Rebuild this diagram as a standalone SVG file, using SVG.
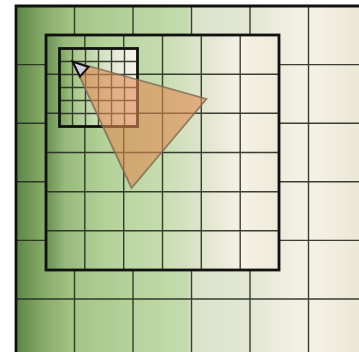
<svg xmlns="http://www.w3.org/2000/svg" width="359" height="352" viewBox="0 0 359 352">
<defs>
<linearGradient id="gOuter" gradientUnits="userSpaceOnUse" x1="16" y1="0" x2="359" y2="0">
<stop offset="0" stop-color="#5a8545"/>
<stop offset="0.08" stop-color="#88ab68"/>
<stop offset="0.17" stop-color="#a4c587"/>
<stop offset="0.34" stop-color="#b5d39b"/>
<stop offset="0.5" stop-color="#c5dcae"/>
<stop offset="0.51" stop-color="#dbe2c9"/>
<stop offset="0.68" stop-color="#e3e7d3"/>
<stop offset="0.85" stop-color="#f5f2e6"/>
<stop offset="1" stop-color="#ece8d6"/>
</linearGradient>
<linearGradient id="gMid" gradientUnits="userSpaceOnUse" x1="46" y1="0" x2="279" y2="0">
<stop offset="0" stop-color="#679050"/>
<stop offset="0.08" stop-color="#97b97b"/>
<stop offset="0.25" stop-color="#b2d298"/>
<stop offset="0.5" stop-color="#c7ddb0"/>
<stop offset="0.67" stop-color="#dfe4cd"/>
<stop offset="0.84" stop-color="#f6f2e4"/>
<stop offset="1" stop-color="#eee9d8"/>
</linearGradient>
<linearGradient id="gIn" gradientUnits="userSpaceOnUse" x1="60" y1="0" x2="138" y2="0">
<stop offset="0" stop-color="#78a05c"/>
<stop offset="0.18" stop-color="#a7c78b"/>
<stop offset="0.5" stop-color="#cfe0bb"/>
<stop offset="0.75" stop-color="#e9ecdc"/>
<stop offset="1" stop-color="#f7f4ea"/>
</linearGradient>
</defs>
<style>
.grid{stroke:#262a22;stroke-width:1.4;stroke-opacity:0.9;fill:none}
.border{stroke:#111;stroke-width:2.8;fill:none}
.tri{fill:#e08850;fill-opacity:0.6;stroke:#7d6a52;stroke-width:1.8;stroke-opacity:0.8}
.ptr{fill:#cfd0dc;stroke:#111;stroke-width:2;stroke-linejoin:miter}
</style>
<rect width="359" height="352" fill="#ffffff"/>
<g id="outer">
<rect x="16" y="6" width="343" height="346" fill="url(#gOuter)"/>
<path class="grid" d="M74.5 6V352M133 6V352M191.5 6V352M250 6V352M308.5 6V352M16 64.6H359M16 123.2H359M16 181.8H359M16 240.4H359M16 299H359"/>
<path class="border" d="M16 352V6H359"/>
</g>
<g id="middle">
<rect x="46" y="35" width="233" height="235" fill="url(#gMid)"/>
<path class="grid" d="M84.8 35V270M123.7 35V270M162.5 35V270M201.3 35V270M240.2 35V270M46 74.2H279M46 113.3H279M46 152.5H279M46 191.7H279M46 230.8H279"/>
<rect class="border" x="46" y="35" width="233" height="235"/>
</g>
<g id="inner">
<rect x="59.5" y="48.5" width="78" height="78" fill="url(#gIn)"/>
<path class="grid" d="M72.5 48.5V126.5M85.5 48.5V126.5M98.5 48.5V126.5M111.5 48.5V126.5M124.5 48.5V126.5M59.5 61.5H137.5M59.5 74.5H137.5M59.5 87.5H137.5M59.5 100.5H137.5M59.5 113.5H137.5"/>
<rect class="border" x="59.5" y="48.5" width="78" height="78" stroke-width="2.4"/>
</g>
<g id="triangle">
<polygon class="tri" points="72.5,61.5 206.5,99 131.5,188"/>
</g>
<g id="pointer">
<polygon class="ptr" points="72.5,61.5 88.5,67 80,76.5"/>
</g>
</svg>
